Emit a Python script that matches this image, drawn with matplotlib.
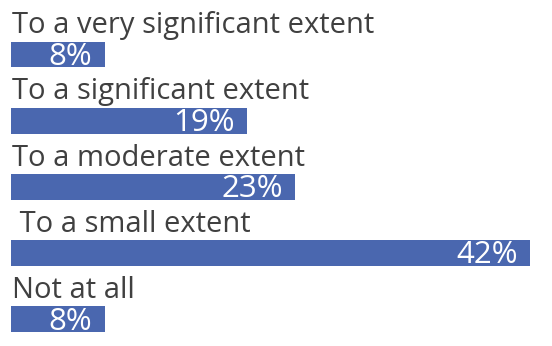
import matplotlib
matplotlib.use("Agg")
import matplotlib.pyplot as plt

categories = ["To a very significant extent", "To a significant extent",
              "To a moderate extent", " To a small extent", "Not at all"]
values = [7.6, 19.1, 23.0, 42.0, 7.6]
value_labels = ["8%", "19%", "23%", "42%", "8%"]

W, H, DPI = 552, 346, 100
fig = plt.figure(figsize=(W / DPI, H / DPI), dpi=DPI)
left_px, right_px = 11, 530
ax = fig.add_axes([left_px / W, 0, (right_px - left_px) / W, 1])

spacing_px = 66.125
top_center_px = 54.5
y_top = -top_center_px / spacing_px
y_bot = y_top + H / spacing_px

ypos = list(range(len(categories)))
bar_color = "#4A67AF"
ax.barh(ypos, values, height=0.39, color=bar_color, left=0)
ax.set_xlim(0, max(values))
ax.set_ylim(y_bot, y_top)
ax.axis("off")

font = "Open Sans"
for y, cat, v, lab in zip(ypos, categories, values, value_labels):
    ax.text(0.05, y - 0.32, cat, ha="left", va="baseline", fontsize=21,
            color="#404040", family=font, clip_on=False)
    ax.annotate(lab, xy=(v, y + 0.16), xytext=(-9, 0), textcoords="offset points",
                ha="right", va="baseline", fontsize=22.5, color="white", family=font)

fig.savefig("out.png", dpi=DPI)
